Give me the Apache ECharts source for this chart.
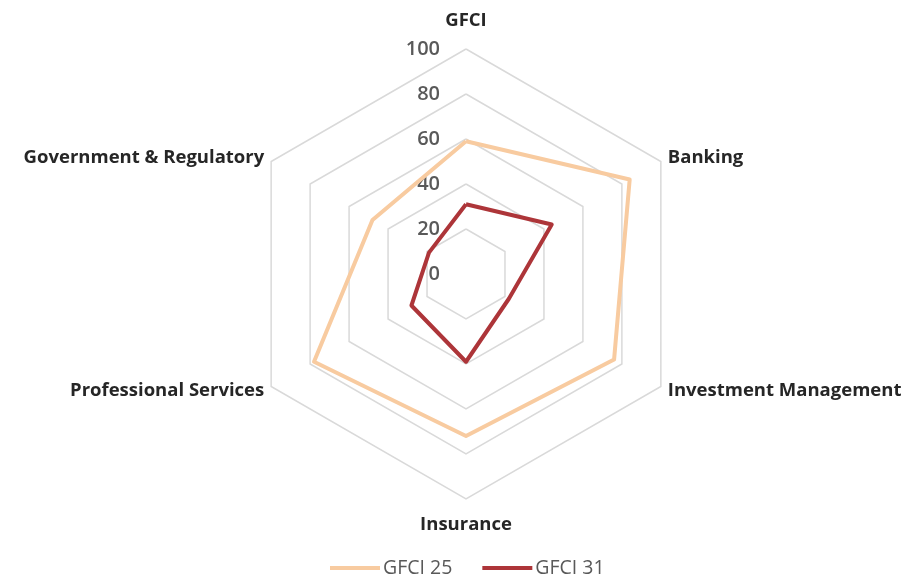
<!DOCTYPE html>
<html><head><meta charset="utf-8">
<script src="https://cdn.jsdelivr.net/npm/echarts@6/dist/echarts.min.js"></script>
<style>html,body{margin:0;padding:0;background:#fff}#c{width:914px;height:583px}</style>
</head><body><div id="c"></div>
<script>
// indicators listed counterclockwise from top (ECharts radar order)
const categories = ['GFCI', 'Government & Regulatory', 'Professional Services', 'Insurance', 'Investment Management', 'Banking'];
const gfci25 = [59, 48, 78, 72, 76, 84];
const gfci31 = [31, 19, 28, 39, 22, 44];
const seriesNames = ['GFCI 25', 'GFCI 31'];
const tickMin = 0, tickMax = 100, tickStep = 20;

const chart = echarts.init(document.getElementById('c'));
const center = [466, 274];
const radius = 225;
const nameStyle = { color: '#262626', fontSize: 18.5, fontWeight: 'bold', fontFamily: 'Open Sans' };
chart.setOption({
  animation: false,
  legend: {
    data: seriesNames,
    bottom: 0,
    left: 325,
    padding: 5,
    itemWidth: 50,
    itemHeight: 4,
    itemGap: 30,
    icon: 'rect',
    textStyle: { color: '#595959', fontSize: 19.5, fontFamily: 'Open Sans', padding: [0, 0, 0, -2] }
  },
  radar: {
    center: center,
    radius: radius,
    startAngle: 90,
    splitNumber: 5,
    shape: 'polygon',
    indicator: categories.map(n => ({ name: n, min: tickMin, max: tickMax })),
    axisName: Object.assign({
      formatter: (n) => n === categories[0] ? '{top|' + n + '}' : (n === categories[3] ? '{bot|' + n + '}' : n),
      rich: {
        top: Object.assign({ padding: [0, 0, 11, 0] }, nameStyle),
        bot: Object.assign({ padding: [8, 0, 0, 0] }, nameStyle)
      }
    }, nameStyle),
    nameGap: 8,
    axisLine: { show: false },
    splitLine: { lineStyle: { color: '#d9d9d9', width: 1.5 } },
    splitArea: { show: false },
    axisLabel: { show: false }
  },
  polar: { center: center, radius: radius },
  angleAxis: { startAngle: 90, show: false, min: 0, max: 360 },
  radiusAxis: {
    min: tickMin, max: tickMax, interval: tickStep,
    axisLine: { show: false }, axisTick: { show: false }, splitLine: { show: false },
    axisLabel: { show: true, color: '#595959', fontSize: 20, fontWeight: 600, fontFamily: 'Open Sans', margin: 26 }
  },
  series: [{
    type: 'radar',
    symbol: 'none',
    data: [
      { name: seriesNames[0], value: gfci25, lineStyle: { color: '#f8cba0', width: 4 }, itemStyle: { color: '#f8cba0' } },
      { name: seriesNames[1], value: gfci31, lineStyle: { color: '#ad3539', width: 4 }, itemStyle: { color: '#ad3539' } }
    ]
  }]
});
</script></body></html>
